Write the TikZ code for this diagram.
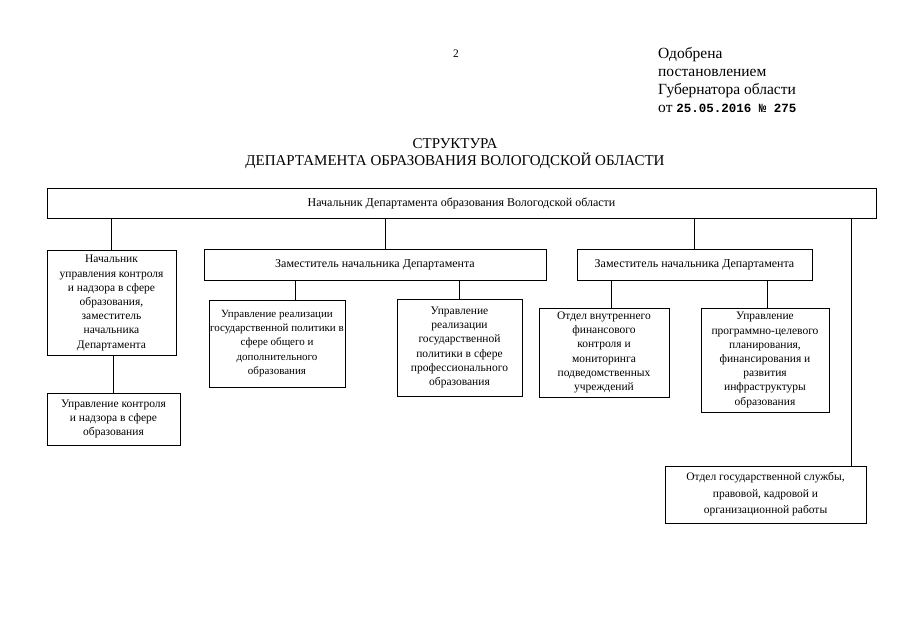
\documentclass[tikz,border=0pt]{standalone}
\usepackage{fontspec}
\setmainfont{Liberation Serif}
\newfontfamily\datefont{Liberation Mono}
\begin{document}
\begin{tikzpicture}[x=1pt,y=-1pt,
  box/.style={draw, line width=0.8pt, inner sep=1pt, align=center,
    font=\fontsize{11.5}{14.2}\selectfont},
  wide/.style={font=\fontsize{12}{14.2}\selectfont},
  conn/.style={line width=0.8pt},
  hdr/.style={anchor=base west, inner sep=0pt, font=\fontsize{15.5}{18}\selectfont},
  ttl/.style={anchor=base, inner sep=0pt, font=\fontsize{15}{17}\selectfont}]
\useasboundingbox (0,0) rectangle (905,640);

% header
\node[anchor=base, inner sep=0pt, font=\fontsize{11.5}{13}\selectfont] (pg) at (456,57) {2};
\node[hdr] (h1) at (658,58) {Одобрена};
\node[hdr] (h2) at (658,76) {постановлением};
\node[hdr] (h3) at (658,94) {Губернатора области};
\node[hdr] (h4) at (658,112) {от {\datefont\bfseries\fontsize{12.5}{14}\selectfont 25.05.2016 № 275}};

% title
\node[ttl] (t1) at (455,148) {СТРУКТУРА};
\node[ttl] (t2) at (455,165) {ДЕПАРТАМЕНТА ОБРАЗОВАНИЯ ВОЛОГОДСКОЙ ОБЛАСТИ};

% boxes
\node[box, wide, minimum width=829pt, minimum height=30pt] (top) at (461.5,203)
  {Начальник Департамента образования Вологодской области};
\node[box, minimum width=129pt, minimum height=105pt] (L1) at (111.5,303)
  {Начальник\\управления контроля\\и надзора в сфере\\образования,\\заместитель\\начальника\\Департамента};
\node[box, minimum width=133pt, minimum height=52pt] (L2) at (113.5,419)
  {Управление контроля\\и надзора в сфере\\образования};
\node[box, wide, minimum width=342pt, minimum height=31pt] (D1) at (375,264.5)
  {Заместитель начальника Департамента};
\node[box, minimum width=136pt, minimum height=87pt, font=\fontsize{11}{14.2}\selectfont] (A) at (277,343.5)
  {Управление реализации\\государственной политики в\\сфере общего и\\дополнительного\\образования};
\node[box, minimum width=125pt, minimum height=97pt] (B) at (459.5,347.5)
  {Управление\\реализации\\государственной\\политики в сфере\\профессионального\\образования};
\node[box, wide, minimum width=235pt, minimum height=31pt] (D2) at (694.5,264.5)
  {Заместитель начальника Департамента};
\node[box, minimum width=130pt, minimum height=89pt] (C) at (604,352.5)
  {Отдел внутреннего\\финансового\\контроля и\\мониторинга\\подведомственных\\учреждений};
\node[box, minimum width=128pt, minimum height=104pt] (D) at (765,360)
  {Управление\\программно-целевого\\планирования,\\финансирования и\\развития\\инфраструктуры\\образования};
\node[box, minimum width=201pt, minimum height=57pt, font=\fontsize{11.5}{16.5}\selectfont] (R) at (765.5,494.5)
  {Отдел государственной службы,\\правовой, кадровой и\\организационной работы};

% connectors
\draw[conn] (L1.north) -- (L1.north |- top.south);
\draw[conn] (L1.south -| L2.north) -- (L2.north);
\draw[conn] ([xshift=10pt]D1.north) -- ([xshift=10pt]D1.north |- top.south);
\draw[conn] ([xshift=18pt]A.north) -- ([xshift=18pt]A.north |- D1.south);
\draw[conn] (B.north) -- (B.north |- D1.south);
\draw[conn] (D2.north) -- (D2.north |- top.south);
\draw[conn] ([xshift=7pt]C.north) -- ([xshift=7pt]C.north |- D2.south);
\draw[conn] ([xshift=2pt]D.north) -- ([xshift=2pt]D.north |- D2.south);
\draw[conn] ([xshift=-15.5pt]R.north east) -- ([xshift=-15.5pt]R.north east |- top.south);
\end{tikzpicture}
\end{document}
